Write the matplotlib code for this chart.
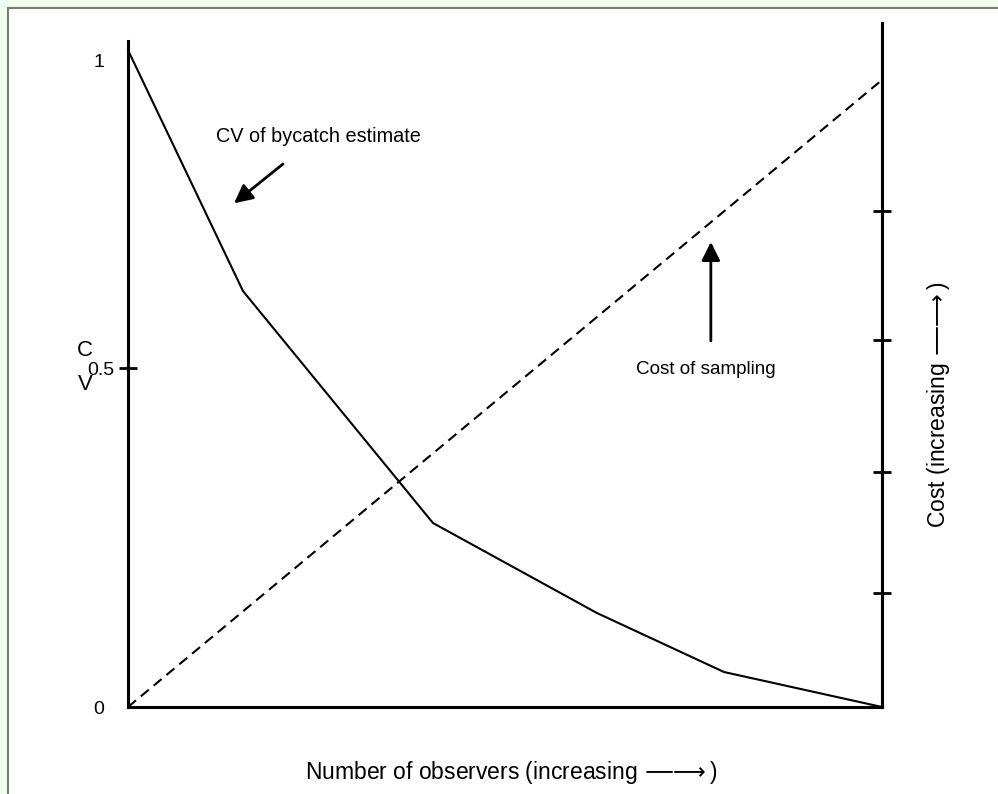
import numpy as np
import matplotlib
matplotlib.use('Agg')
from matplotlib import pyplot as plt
from matplotlib.patches import Rectangle

plt.rcParams['font.family'] = ['Liberation Sans', 'DejaVu Sans']

# observers (fraction of x range) and CV of bycatch estimate
obs = [0.0, 0.1525, 0.4045, 0.622, 0.7905, 1.0]
cv = [0.969, 0.6136, 0.2714, 0.1386, 0.0516, 0.0]

# cost of sampling, straight line
cost_x = [0.0, 1.0]
cost_y = [0.0, 0.925]

cv_ticks = [0.0, 0.954]
cv_labels = ['0', '1']
cv_mid = [0.5]
cost_ticks = [0.168, 0.3466, 0.5413, 0.7316]

W, H = 998, 794
fig = plt.figure(figsize=(W/100., H/100.), dpi=100, facecolor='#f0fff0')
fig.patches.append(Rectangle((7.5/W, -0.01), 1.0, 1.01 - 7.5/H, transform=fig.transFigure,
                             facecolor='white', edgecolor='#7a7a7a', lw=1.5, zorder=-10))

ax = fig.add_axes([128./W, 87./H, (882.-128.)/W, (707.-23.)/H])
ax.patch.set_alpha(0)
ax.set_xlim(0, 1)
ax.set_ylim(0, 1.009)

ax.plot(obs, cv, color='k', lw=1.5, clip_on=False)
ax.plot(cost_x, cost_y, color='k', lw=1.5, ls=(0, (5, 3)), clip_on=False)

ax.spines['top'].set_visible(False)
for s in ['left', 'right', 'bottom']:
    ax.spines[s].set_linewidth(2.2)
ax.spines['left'].set_bounds(0, 0.982)
ax.set_xticks([])
# labels 0 and 1 have no tick mark, 0.5 has one crossing the axis
ax.set_yticks(cv_ticks)
ax.set_yticklabels(cv_labels, fontsize=14)
ax.tick_params(axis='y', which='major', length=0, pad=17)
ax.set_yticks(cv_mid, minor=True)
ax.set_yticklabels(['0.5'], minor=True, fontsize=14)
ax.tick_params(axis='y', which='minor', direction='inout', length=13, width=2, pad=3.5)

ax2 = ax.twinx()
ax2.set_ylim(0, 1.009)
ax2.set_yticks(cost_ticks)
ax2.set_yticklabels([])
ax2.tick_params(axis='y', direction='inout', length=13, width=2)
for s in ['top', 'left', 'bottom']:
    ax2.spines[s].set_visible(False)
ax2.spines['right'].set_linewidth(2.2)

ax.text(0.1167, 0.841, 'CV of bycatch estimate', fontsize=14.3, ha='left', va='center')
ax.annotate('', xy=(0.1406, 0.743), xytext=(0.2056, 0.801),
            arrowprops=dict(arrowstyle='-|>', lw=2, mutation_scale=28, color='k', shrinkA=0, shrinkB=0))
ax.text(0.7666, 0.4985, 'Cost of sampling', fontsize=13.6, ha='center', va='center')
ax.annotate('', xy=(0.773, 0.686), xytext=(0.773, 0.540),
            arrowprops=dict(arrowstyle='-|>', lw=2, mutation_scale=28, color='k', shrinkA=0, shrinkB=0))

fig.text(85./W, 1 - 351./H, 'C', fontsize=16, ha='center', va='center')
fig.text(85./W, 1 - 384./H, 'V', fontsize=16, ha='center', va='center')
arr = r'$-\!\!\!-\!\!\!\longrightarrow$'
fig.text(511./W, 1 - 773./H, 'Number of observers (increasing ' + arr + ')', fontsize=16.5,
         ha='center', va='center')
fig.text(938./W, 1 - 405./H, 'Cost (increasing ' + arr + ')', fontsize=16.5,
         ha='center', va='center', rotation=90)

fig.savefig('out.png', dpi=100, facecolor=fig.get_facecolor())
